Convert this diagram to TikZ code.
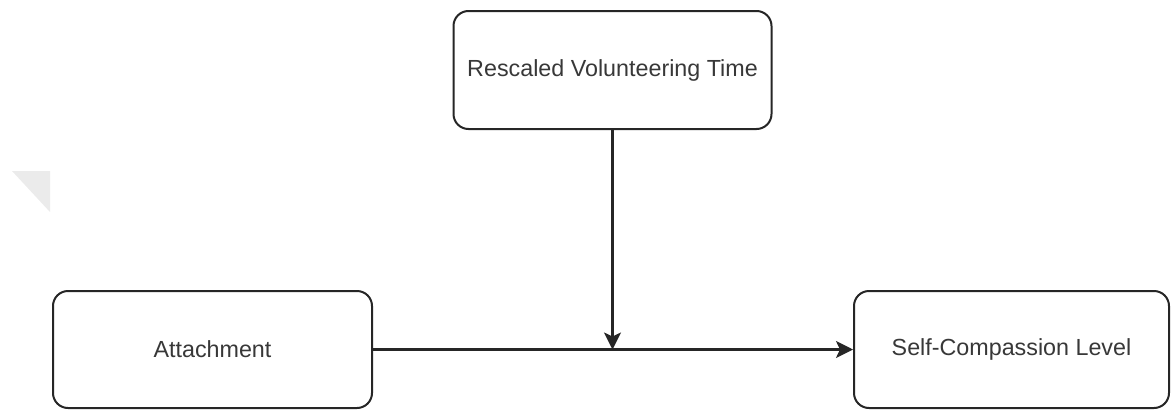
\documentclass[tikz,border=0pt]{standalone}
\usepackage{fontspec}
\setmainfont{Liberation Sans}
\usetikzlibrary{arrows.meta}
\begin{document}
\begin{tikzpicture}[x=1pt,y=-1pt,
  box/.style={draw=black!85, line width=2pt, rounded corners=15pt, fill=white,
    text=black!78, font=\fontsize{23.3}{27}\selectfont, inner sep=0pt},
  conn/.style={draw=black!85, line width=2.2pt, -{Stealth[length=17pt,width=17pt,inset=4pt]}}]
\useasboundingbox (0,0) rectangle (1171,410);
\fill[black!8] (12,171) -- (50,171) -- (50,212) -- cycle;
\node[box, minimum width=318pt, minimum height=118pt] (rvt) at (612.5,70) {Rescaled Volunteering Time};
\node[box, minimum width=319pt, minimum height=117pt] (att) at (212.5,349.5) {Attachment};
\node[box, minimum width=315pt, minimum height=117pt] (sc) at (1011.5,349.5) {Self-Compassion Level};
\coordinate (mid) at (rvt.south |- att.east);
\draw[conn] (att) -- (sc);
\draw[conn] (rvt) -- (mid);
\end{tikzpicture}
\end{document}
